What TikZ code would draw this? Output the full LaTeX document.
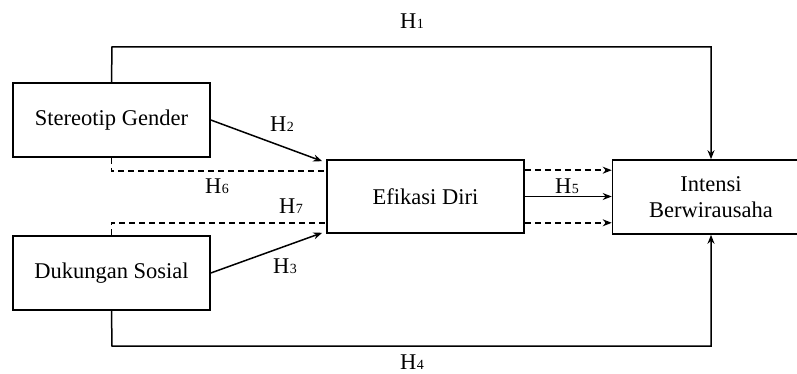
\documentclass[tikz,border=0pt]{standalone}
\usepackage{fontspec}
\setmainfont{Liberation Serif}
\usetikzlibrary{arrows.meta}
\newcommand{\hyp}[1]{H\kern0.3pt{\fontsize{14}{14}\selectfont #1}}
\begin{document}
\begin{tikzpicture}[x=1pt,y=-1pt,
  box/.style={draw,line width=1.6pt,minimum width=197pt,minimum height=74pt,inner sep=0pt,font=\fontsize{22.5}{26}\selectfont,align=center},
  lbl/.style={font=\fontsize{22.5}{26}\selectfont,inner sep=0pt},
  conn/.style={line width=1.5pt},
  arr/.style={conn,-{Stealth[length=9pt,width=7pt]}},
  dsh/.style={dash pattern=on 6pt off 4pt}]
\useasboundingbox (0,0) rectangle (797,374);
\node[box] (sg) at (111.5,120) {Stereotip Gender};
\node[box] (ds) at (111.5,273) {Dukungan Sosial};
\node[box,minimum height=73pt] (ed) at (425.5,196.5) {Efikasi Diri};
\node[box] (ib) at (711,197) {Intensi\\Berwirausaha};
% H1
\draw[arr] (sg.north) -- (112,47) -| (ib.north);
% H4
\draw[arr] (ds.south) -- (112,346) -| (ib.south);
% H2, H3
\draw[arr] (sg.east) -- ([xshift=-4pt,yshift=-2pt]ed.north west);
\draw[arr] (ds.east) -- ([xshift=-4pt,yshift=1pt]ed.south west);
% H6, H7 dashed
\draw[conn,dsh] (sg.south) |- ([yshift=-12pt]ed.north west);
\draw[conn,dsh] (ds.north) |- ([yshift=11pt]ed.south west);
% Efikasi -> Intensi
\draw[arr,dsh] ([yshift=-11pt]ed.north east) -- ([yshift=-11pt]ed.north east -| ib.west);
\draw[arr] (ed.east) -- (ed.east -| ib.west);
\draw[arr,dsh] ([yshift=11pt]ed.south east) -- ([yshift=11pt]ed.south east -| ib.west);
% labels
\node[lbl] (h1) at (412,21) {\hyp{1}};
\node[lbl] (h2) at (282,124) {\hyp{2}};
\node[lbl] (h3) at (285,266) {\hyp{3}};
\node[lbl] (h4) at (412,362) {\hyp{4}};
\node[lbl] (h5) at (567,186) {\hyp{5}};
\node[lbl] (h6) at (217,186) {\hyp{6}};
\node[lbl] (h7) at (291,206) {\hyp{7}};
\end{tikzpicture}
\end{document}
